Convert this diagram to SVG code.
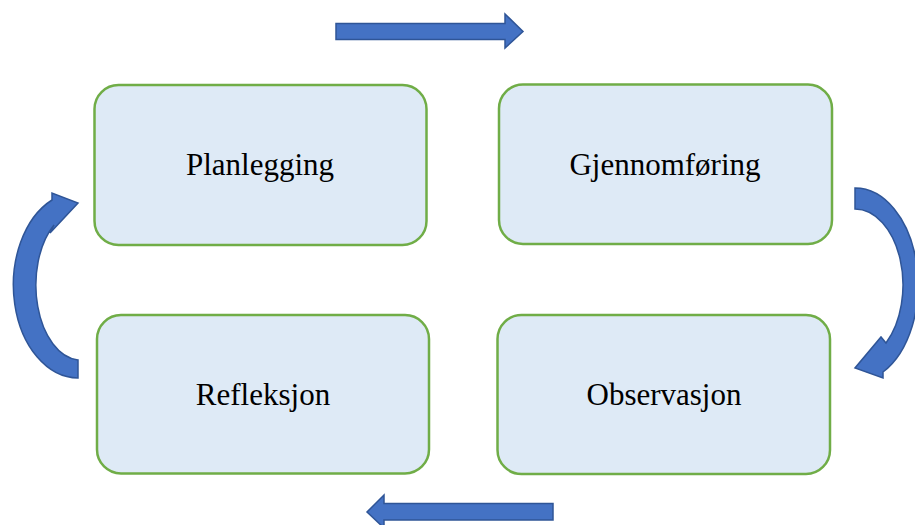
<svg xmlns="http://www.w3.org/2000/svg" width="915" height="525" viewBox="0 0 915 525">
<style>
.box{fill:#DEEAF6;stroke:#70AD47;stroke-width:2.5}
.lbl{font-family:"Liberation Serif","Times New Roman",serif;font-size:31px;fill:#000;text-anchor:middle}
.arr{fill:#4472C4;stroke:#2F5597;stroke-width:1.5;stroke-linejoin:miter}
</style>
<rect width="915" height="525" fill="#fff"/>
<g id="planlegging">
<rect class="box" x="94.5" y="85" width="332" height="160" rx="24"/>
<text class="lbl" x="260" y="175">Planlegging</text>
</g>
<g id="gjennomforing">
<rect class="box" x="499" y="84.5" width="333" height="159.5" rx="24"/>
<text class="lbl" x="665" y="175">Gjennomføring</text>
</g>
<g id="refleksjon">
<rect class="box" x="97" y="315" width="332" height="158.5" rx="24"/>
<text class="lbl" x="263" y="405">Refleksjon</text>
</g>
<g id="observasjon">
<rect class="box" x="497.5" y="315" width="332.5" height="159" rx="24"/>
<text class="lbl" x="664" y="405">Observasjon</text>
</g>
<g id="connectors">
<path class="arr" d="M336,23.5 L505,23.5 L505,14 L523,31.5 L505,48 L505,39.5 L336,39.5 Z"/>
<path class="arr" d="M553,503.5 L384,503.5 L384,495 L367,512 L384,528 L384,520 L553,520 Z"/>
<path class="arr" d="M78,378 A65,93 0 0 1 52,200 L52,193 L78,203 L50,233 L54,225 A45,75 0 0 0 78,360 Z"/>
<path class="arr" d="M855,188 A63,97 0 0 1 883,372 L883,378 L855,368 L881,337 L886,343 A48,76 0 0 0 855,209 Z"/>
</g>
</svg>
